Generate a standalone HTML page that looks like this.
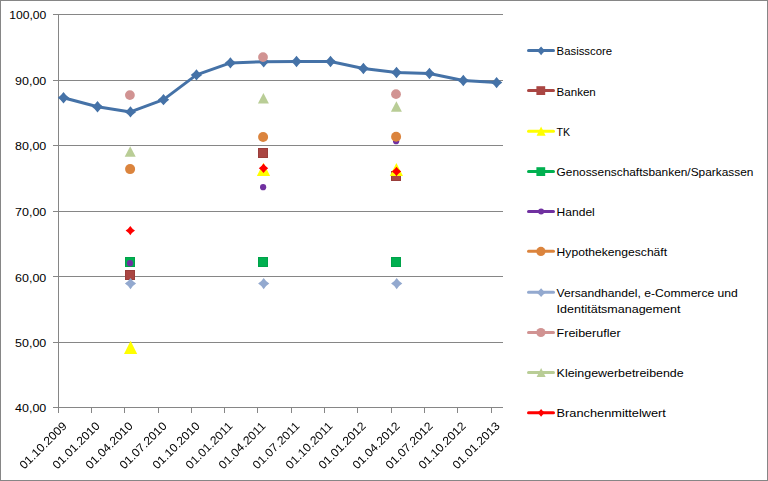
<!DOCTYPE html>
<html lang="de">
<head>
<meta charset="utf-8">
<title>Basisscore</title>
<style>
html,body{margin:0;padding:0;background:#fff;}
body{width:768px;height:481px;overflow:hidden;}
svg{display:block;}
text{font-family:"Liberation Sans", sans-serif;font-size:12px;fill:#000;}
.lg{font-size:11.6px;}
</style>
</head>
<body>
<svg width="768" height="481" viewBox="0 0 768 481">
<rect x="0" y="0" width="768" height="481" fill="#fff"/>
<rect x="0.5" y="0.5" width="767" height="480" fill="none" stroke="#868686" stroke-width="1"/>
<g stroke="#868686" stroke-width="1" fill="none" shape-rendering="crispEdges">
<line x1="53" y1="14.5" x2="502.5" y2="14.5"/>
<line x1="53" y1="80.0" x2="502.5" y2="80.0"/>
<line x1="53" y1="145.5" x2="502.5" y2="145.5"/>
<line x1="53" y1="211.0" x2="502.5" y2="211.0"/>
<line x1="53" y1="276.5" x2="502.5" y2="276.5"/>
<line x1="53" y1="342.0" x2="502.5" y2="342.0"/>
<line x1="53" y1="407.5" x2="502.5" y2="407.5"/>
<line x1="58.5" y1="14.5" x2="58.5" y2="412.5"/>
<line x1="91.50" y1="407.5" x2="91.50" y2="412.5"/>
<line x1="124.50" y1="407.5" x2="124.50" y2="412.5"/>
<line x1="158.50" y1="407.5" x2="158.50" y2="412.5"/>
<line x1="191.50" y1="407.5" x2="191.50" y2="412.5"/>
<line x1="224.50" y1="407.5" x2="224.50" y2="412.5"/>
<line x1="257.50" y1="407.5" x2="257.50" y2="412.5"/>
<line x1="291.50" y1="407.5" x2="291.50" y2="412.5"/>
<line x1="324.50" y1="407.5" x2="324.50" y2="412.5"/>
<line x1="357.50" y1="407.5" x2="357.50" y2="412.5"/>
<line x1="391.50" y1="407.5" x2="391.50" y2="412.5"/>
<line x1="424.50" y1="407.5" x2="424.50" y2="412.5"/>
<line x1="457.50" y1="407.5" x2="457.50" y2="412.5"/>
<line x1="491.50" y1="407.5" x2="491.50" y2="412.5"/>
</g>
<g text-anchor="end">
<text class="lg" x="46.3" y="19" textLength="37.1" lengthAdjust="spacingAndGlyphs">100,00</text>
<text class="lg" x="46.3" y="85" textLength="31.2" lengthAdjust="spacingAndGlyphs">90,00</text>
<text class="lg" x="46.3" y="150" textLength="31.2" lengthAdjust="spacingAndGlyphs">80,00</text>
<text class="lg" x="46.3" y="216" textLength="31.2" lengthAdjust="spacingAndGlyphs">70,00</text>
<text class="lg" x="46.3" y="282" textLength="31.2" lengthAdjust="spacingAndGlyphs">60,00</text>
<text class="lg" x="46.3" y="347" textLength="31.2" lengthAdjust="spacingAndGlyphs">50,00</text>
<text class="lg" x="46.3" y="412" textLength="31.2" lengthAdjust="spacingAndGlyphs">40,00</text>
</g>
<g text-anchor="end" style="filter:grayscale(1)">
<text class="lg" transform="translate(67.45 426.7) rotate(-45)" textLength="61" lengthAdjust="spacingAndGlyphs">01.10.2009</text>
<text class="lg" transform="translate(100.45 426.7) rotate(-45)" textLength="61" lengthAdjust="spacingAndGlyphs">01.01.2010</text>
<text class="lg" transform="translate(133.45 426.7) rotate(-45)" textLength="61" lengthAdjust="spacingAndGlyphs">01.04.2010</text>
<text class="lg" transform="translate(167.45 426.7) rotate(-45)" textLength="61" lengthAdjust="spacingAndGlyphs">01.07.2010</text>
<text class="lg" transform="translate(200.45 426.7) rotate(-45)" textLength="61" lengthAdjust="spacingAndGlyphs">01.10.2010</text>
<text class="lg" transform="translate(233.45 426.7) rotate(-45)" textLength="61" lengthAdjust="spacingAndGlyphs">01.01.2011</text>
<text class="lg" transform="translate(266.45 426.7) rotate(-45)" textLength="61" lengthAdjust="spacingAndGlyphs">01.04.2011</text>
<text class="lg" transform="translate(300.45 426.7) rotate(-45)" textLength="61" lengthAdjust="spacingAndGlyphs">01.07.2011</text>
<text class="lg" transform="translate(333.45 426.7) rotate(-45)" textLength="61" lengthAdjust="spacingAndGlyphs">01.10.2011</text>
<text class="lg" transform="translate(366.45 426.7) rotate(-45)" textLength="61" lengthAdjust="spacingAndGlyphs">01.01.2012</text>
<text class="lg" transform="translate(400.45 426.7) rotate(-45)" textLength="61" lengthAdjust="spacingAndGlyphs">01.04.2012</text>
<text class="lg" transform="translate(433.45 426.7) rotate(-45)" textLength="61" lengthAdjust="spacingAndGlyphs">01.07.2012</text>
<text class="lg" transform="translate(466.45 426.7) rotate(-45)" textLength="61" lengthAdjust="spacingAndGlyphs">01.10.2012</text>
<text class="lg" transform="translate(500.45 426.7) rotate(-45)" textLength="61" lengthAdjust="spacingAndGlyphs">01.01.2013</text>
</g>
<polyline points="63.50,97.75 97.50,106.80 130.45,111.90 163.50,99.65 196.45,74.90 230.40,62.90 263.70,61.70 296.50,61.45 330.50,61.55 363.40,68.50 396.50,72.50 429.45,73.50 463.30,80.50 496.60,82.60" fill="none" stroke="#4572A7" stroke-width="3" stroke-linejoin="round" stroke-linecap="round"/>
<path d="M63.50 92.05Q65.78 95.47 69.20 97.75Q65.78 100.03 63.50 103.45Q61.22 100.03 57.80 97.75Q61.22 95.47 63.50 92.05Z" fill="#4572A7"/>
<path d="M97.50 101.10Q99.78 104.52 103.20 106.80Q99.78 109.08 97.50 112.50Q95.22 109.08 91.80 106.80Q95.22 104.52 97.50 101.10Z" fill="#4572A7"/>
<path d="M130.45 106.20Q132.73 109.62 136.15 111.90Q132.73 114.18 130.45 117.60Q128.17 114.18 124.75 111.90Q128.17 109.62 130.45 106.20Z" fill="#4572A7"/>
<path d="M163.50 93.95Q165.78 97.37 169.20 99.65Q165.78 101.93 163.50 105.35Q161.22 101.93 157.80 99.65Q161.22 97.37 163.50 93.95Z" fill="#4572A7"/>
<path d="M196.45 69.20Q198.73 72.62 202.15 74.90Q198.73 77.18 196.45 80.60Q194.17 77.18 190.75 74.90Q194.17 72.62 196.45 69.20Z" fill="#4572A7"/>
<path d="M230.40 57.20Q232.68 60.62 236.10 62.90Q232.68 65.18 230.40 68.60Q228.12 65.18 224.70 62.90Q228.12 60.62 230.40 57.20Z" fill="#4572A7"/>
<path d="M263.70 56.00Q265.98 59.42 269.40 61.70Q265.98 63.98 263.70 67.40Q261.42 63.98 258.00 61.70Q261.42 59.42 263.70 56.00Z" fill="#4572A7"/>
<path d="M296.50 55.75Q298.78 59.17 302.20 61.45Q298.78 63.73 296.50 67.15Q294.22 63.73 290.80 61.45Q294.22 59.17 296.50 55.75Z" fill="#4572A7"/>
<path d="M330.50 55.85Q332.78 59.27 336.20 61.55Q332.78 63.83 330.50 67.25Q328.22 63.83 324.80 61.55Q328.22 59.27 330.50 55.85Z" fill="#4572A7"/>
<path d="M363.40 62.80Q365.68 66.22 369.10 68.50Q365.68 70.78 363.40 74.20Q361.12 70.78 357.70 68.50Q361.12 66.22 363.40 62.80Z" fill="#4572A7"/>
<path d="M396.50 66.80Q398.78 70.22 402.20 72.50Q398.78 74.78 396.50 78.20Q394.22 74.78 390.80 72.50Q394.22 70.22 396.50 66.80Z" fill="#4572A7"/>
<path d="M429.45 67.80Q431.73 71.22 435.15 73.50Q431.73 75.78 429.45 79.20Q427.17 75.78 423.75 73.50Q427.17 71.22 429.45 67.80Z" fill="#4572A7"/>
<path d="M463.30 74.80Q465.58 78.22 469.00 80.50Q465.58 82.78 463.30 86.20Q461.02 82.78 457.60 80.50Q461.02 78.22 463.30 74.80Z" fill="#4572A7"/>
<path d="M496.60 76.90Q498.88 80.32 502.30 82.60Q498.88 84.88 496.60 88.30Q494.32 84.88 490.90 82.60Q494.32 80.32 496.60 76.90Z" fill="#4572A7"/>
<rect x="125.50" y="270.50" width="9.00" height="9.00" fill="#AA4643" stroke="#9A3E3B" stroke-width="1"/>
<rect x="258.50" y="148.50" width="9.00" height="9.00" fill="#AA4643" stroke="#9A3E3B" stroke-width="1"/>
<rect x="391.50" y="171.50" width="9.00" height="9.00" fill="#AA4643" stroke="#9A3E3B" stroke-width="1"/>
<path d="M130.60 340.80L137.20 353.90L124.00 353.90Z" fill="#FFFF00"/>
<path d="M263.50 162.80L270.10 175.90L256.90 175.90Z" fill="#FFFF00"/>
<path d="M396.40 163.00L403.00 176.10L389.80 176.10Z" fill="#FFFF00"/>
<rect x="125.50" y="257.50" width="9.00" height="9.00" fill="#00B050" stroke="#00A24A" stroke-width="1"/>
<rect x="258.50" y="257.50" width="9.00" height="9.00" fill="#00B050" stroke="#00A24A" stroke-width="1"/>
<rect x="391.50" y="257.50" width="9.00" height="9.00" fill="#00B050" stroke="#00A24A" stroke-width="1"/>
<circle cx="130.00" cy="263.20" r="3.10" fill="#7030A0"/>
<circle cx="263.10" cy="187.20" r="3.10" fill="#7030A0"/>
<circle cx="396.10" cy="141.20" r="3.10" fill="#7030A0"/>
<circle cx="130.10" cy="169.10" r="5.00" fill="#DB843D"/>
<circle cx="263.10" cy="137.00" r="5.00" fill="#DB843D"/>
<circle cx="396.10" cy="136.80" r="5.00" fill="#DB843D"/>
<path d="M130.50 278.00Q132.63 281.47 136.10 283.60Q132.63 285.73 130.50 289.20Q128.37 285.73 124.90 283.60Q128.37 281.47 130.50 278.00Z" fill="#93A9CF"/>
<path d="M263.70 278.00Q265.83 281.47 269.30 283.60Q265.83 285.73 263.70 289.20Q261.57 285.73 258.10 283.60Q261.57 281.47 263.70 278.00Z" fill="#93A9CF"/>
<path d="M396.70 278.00Q398.83 281.47 402.30 283.60Q398.83 285.73 396.70 289.20Q394.57 285.73 391.10 283.60Q394.57 281.47 396.70 278.00Z" fill="#93A9CF"/>
<circle cx="129.90" cy="95.10" r="4.90" fill="#D19392"/>
<circle cx="263.00" cy="57.10" r="4.90" fill="#D19392"/>
<circle cx="396.00" cy="94.15" r="4.90" fill="#D19392"/>
<path d="M130.20 146.20L135.70 156.70L124.70 156.70Z" fill="#B9CD96"/>
<path d="M263.40 93.10L268.90 103.60L257.90 103.60Z" fill="#B9CD96"/>
<path d="M396.40 101.25L401.90 111.75L390.90 111.75Z" fill="#B9CD96"/>
<path d="M130.30 225.90Q132.18 228.72 135.00 230.60Q132.18 232.48 130.30 235.30Q128.42 232.48 125.60 230.60Q128.42 228.72 130.30 225.90Z" fill="#FF0000"/>
<path d="M263.50 163.60Q265.38 166.42 268.20 168.30Q265.38 170.18 263.50 173.00Q261.62 170.18 258.80 168.30Q261.62 166.42 263.50 163.60Z" fill="#FF0000"/>
<path d="M396.50 166.80Q398.38 169.62 401.20 171.50Q398.38 173.38 396.50 176.20Q394.62 173.38 391.80 171.50Q394.62 169.62 396.50 166.80Z" fill="#FF0000"/>
<line x1="528.5" y1="50.5" x2="553.5" y2="50.5" stroke="#4572A7" stroke-width="3" stroke-linecap="round"/>
<path d="M541.10 46.55Q543.03 48.91 545.40 50.85Q543.03 52.79 541.10 55.15Q539.17 52.79 536.80 50.85Q539.17 48.91 541.10 46.55Z" fill="#4572A7"/>
<text class="lg" x="556.6" y="55" textLength="55.5" lengthAdjust="spacingAndGlyphs">Basisscore</text>
<line x1="528.5" y1="90.6" x2="553.5" y2="90.6" stroke="#AA4643" stroke-width="3" stroke-linecap="round"/>
<rect x="536.40" y="86.20" width="8.80" height="8.80" fill="#AA4643"/>
<text class="lg" x="556.6" y="96" textLength="39.2" lengthAdjust="spacingAndGlyphs">Banken</text>
<line x1="528.5" y1="131.2" x2="553.5" y2="131.2" stroke="#FFFF00" stroke-width="3" stroke-linecap="round"/>
<path d="M541.10 126.60L545.60 135.80L536.60 135.80Z" fill="#FFFF00"/>
<text class="lg" x="556.6" y="136" textLength="13.6" lengthAdjust="spacingAndGlyphs">TK</text>
<line x1="528.5" y1="171.6" x2="553.5" y2="171.6" stroke="#00B050" stroke-width="3" stroke-linecap="round"/>
<rect x="536.40" y="167.20" width="8.80" height="8.80" fill="#00B050"/>
<text class="lg" x="556.6" y="176" textLength="196.8" lengthAdjust="spacingAndGlyphs">Genossenschaftsbanken/Sparkassen</text>
<line x1="528.5" y1="211.4" x2="553.5" y2="211.4" stroke="#7030A0" stroke-width="3" stroke-linecap="round"/>
<circle cx="541.10" cy="211.40" r="3.00" fill="#7030A0"/>
<text class="lg" x="556.6" y="216" textLength="38.2" lengthAdjust="spacingAndGlyphs">Handel</text>
<line x1="528.5" y1="251.3" x2="553.5" y2="251.3" stroke="#DB843D" stroke-width="3" stroke-linecap="round"/>
<circle cx="540.90" cy="251.40" r="4.60" fill="#DB843D"/>
<text class="lg" x="556.6" y="256" textLength="110.5" lengthAdjust="spacingAndGlyphs">Hypothekengeschäft</text>
<line x1="528.5" y1="292.3" x2="553.5" y2="292.3" stroke="#93A9CF" stroke-width="3" stroke-linecap="round"/>
<path d="M541.10 288.35Q543.03 290.72 545.40 292.65Q543.03 294.59 541.10 296.95Q539.17 294.59 536.80 292.65Q539.17 290.72 541.10 288.35Z" fill="#93A9CF"/>
<text class="lg" x="556.6" y="297" textLength="181.2" lengthAdjust="spacingAndGlyphs">Versandhandel, e-Commerce und</text>
<text class="lg" x="556.6" y="313" textLength="123.8" lengthAdjust="spacingAndGlyphs">Identitätsmanagement</text>
<line x1="528.5" y1="332.4" x2="553.5" y2="332.4" stroke="#D19392" stroke-width="3" stroke-linecap="round"/>
<circle cx="540.90" cy="332.50" r="4.60" fill="#D19392"/>
<text class="lg" x="556.6" y="337" textLength="64.0" lengthAdjust="spacingAndGlyphs">Freiberufler</text>
<line x1="528.5" y1="372.5" x2="553.5" y2="372.5" stroke="#B9CD96" stroke-width="3" stroke-linecap="round"/>
<path d="M541.10 367.90L545.60 377.10L536.60 377.10Z" fill="#B9CD96"/>
<text class="lg" x="556.6" y="377" textLength="127.1" lengthAdjust="spacingAndGlyphs">Kleingewerbetreibende</text>
<line x1="528.5" y1="412.7" x2="553.5" y2="412.7" stroke="#FF0000" stroke-width="3" stroke-linecap="round"/>
<path d="M541.10 408.90Q542.74 411.16 545.00 412.80Q542.74 414.44 541.10 416.70Q539.46 414.44 537.20 412.80Q539.46 411.16 541.10 408.90Z" fill="#FF0000"/>
<text class="lg" x="556.6" y="417" textLength="109.3" lengthAdjust="spacingAndGlyphs">Branchenmittelwert</text>
</svg>
</body>
</html>
